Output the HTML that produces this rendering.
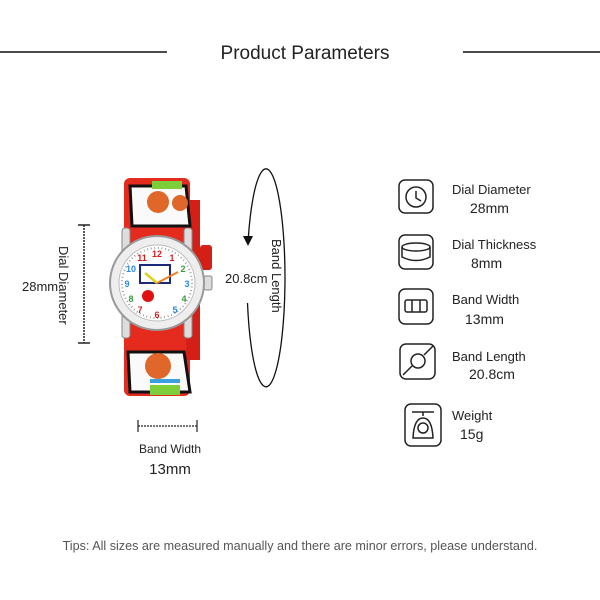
<!DOCTYPE html>
<html><head><style>
html,body{margin:0;padding:0;background:#fff;}
svg{display:block;}
text{font-family:"Liberation Sans",sans-serif;}
</style></head><body>
<svg width="600" height="600" viewBox="0 0 600 600" xmlns="http://www.w3.org/2000/svg">
<rect width="600" height="600" fill="#fff"/>
<line x1="0" y1="52" x2="167" y2="52" stroke="#111" stroke-width="1.5"/>
<line x1="463" y1="52" x2="600" y2="52" stroke="#111" stroke-width="1.5"/>
<text x="305" y="59" font-size="19" text-anchor="middle" fill="#222">Product Parameters</text>

<line x1="84" y1="225" x2="84" y2="343" stroke="#222" stroke-width="1.5" stroke-dasharray="2 1"/>
<line x1="78" y1="225" x2="90" y2="225" stroke="#222" stroke-width="1.5"/>
<line x1="78" y1="343" x2="90" y2="343" stroke="#222" stroke-width="1.5"/>
<text x="22" y="291" font-size="13" fill="#222">28mm</text>
<text transform="translate(59,246) rotate(90)" font-size="13" fill="#222">Dial Diameter</text>

<g>
<rect x="124" y="178" width="66" height="218" rx="6" fill="#e52a1e"/>
<rect x="186" y="200" width="14" height="160" fill="#d41f16"/>
<rect x="200" y="245" width="12" height="25" rx="3" fill="#d41f16"/>
<path d="M130 186 L186 186 L190 226 L132 226 Z" fill="#fafafa" stroke="#111" stroke-width="3"/>
<rect x="152" y="181" width="30" height="8" fill="#7ccf3a"/>
<circle cx="158" cy="202" r="11" fill="#e0662a"/>
<circle cx="180" cy="203" r="8" fill="#e0662a"/>
<path d="M128 352 L184 352 L190 392 L130 392 Z" fill="#fafafa" stroke="#111" stroke-width="3"/>
<circle cx="158" cy="366" r="13" fill="#e0662a"/>
<rect x="150" y="385" width="30" height="10" fill="#7ccf3a"/>
<rect x="150" y="379" width="30" height="4" fill="#3aa0e0"/>
<rect x="122" y="228" width="8" height="110" rx="3" fill="#ddd" stroke="#888"/>
<rect x="184" y="228" width="8" height="110" rx="3" fill="#ddd" stroke="#888"/>
<rect x="204" y="276" width="8" height="14" rx="2" fill="#ddd" stroke="#888"/>
<circle cx="157" cy="283" r="47" fill="#eee" stroke="#999" stroke-width="2"/>
<circle cx="157" cy="283" r="38" fill="#fff" stroke="#bbb"/>
<circle cx="157" cy="283" r="35" fill="none" stroke="#888" stroke-width="2" stroke-dasharray="0.8 2.8"/>
<rect x="140" y="265" width="30" height="18" fill="#fff" stroke="#1b2a7a" stroke-width="2"/>
<circle cx="148" cy="296" r="6" fill="#e01010"/>
<g font-size="9" text-anchor="middle" font-weight="bold">
<text x="157" y="257" fill="#d02020">12</text>
<text x="172" y="261" fill="#d02020">1</text>
<text x="183" y="272" fill="#3a9a3a">2</text>
<text x="187" y="287" fill="#2a8adf">3</text>
<text x="184" y="302" fill="#3a9a3a">4</text>
<text x="175" y="313" fill="#2a8adf">5</text>
<text x="157" y="318" fill="#d02020">6</text>
<text x="140" y="313" fill="#d02020">7</text>
<text x="131" y="302" fill="#3a9a3a">8</text>
<text x="127" y="287" fill="#2a8adf">9</text>
<text x="131" y="272" fill="#2a8adf">10</text>
<text x="142" y="261" fill="#d02020">11</text>
</g>
<line x1="157" y1="283" x2="178" y2="272" stroke="#f08020" stroke-width="2"/>
<line x1="157" y1="283" x2="145" y2="273" stroke="#e0d020" stroke-width="2.5"/>
</g>

<line x1="138" y1="426" x2="197" y2="426" stroke="#222" stroke-width="1.2" stroke-dasharray="2 1"/>
<line x1="138" y1="420" x2="138" y2="432" stroke="#222" stroke-width="1.2"/>
<line x1="197" y1="420" x2="197" y2="432" stroke="#222" stroke-width="1.2"/>
<text x="170" y="453" font-size="12" text-anchor="middle" fill="#222">Band Width</text>
<text x="170" y="474" font-size="15" text-anchor="middle" fill="#222">13mm</text>

<path d="M248.3 238 A19 109 0 1 1 247.5 303" fill="none" stroke="#111" stroke-width="1.3"/>
<path d="M243 236 L253 236 L248 246 Z" fill="#111"/>
<text x="225" y="283" font-size="13" fill="#222">20.8cm</text>
<text transform="translate(272,239) rotate(90)" font-size="13" fill="#222">Band Length</text>

<g fill="none" stroke="#222" stroke-width="1.5">
<rect x="399" y="180" width="34" height="33" rx="6"/>
<circle cx="416" cy="197" r="10"/>
<path d="M416 191 L416 198 L421 201"/>
<rect x="399" y="235" width="34" height="34" rx="6"/>
<ellipse cx="416" cy="247" rx="14" ry="4"/>
<path d="M402 247 L402 257 Q416 264 430 257 L430 247"/>
<rect x="399" y="289" width="34" height="35" rx="6"/>
<rect x="405" y="300" width="22" height="12" rx="2"/>
<line x1="412" y1="300" x2="412" y2="312"/><line x1="420" y1="300" x2="420" y2="312"/>
<rect x="400" y="344" width="35" height="35" rx="6"/>
<circle cx="418" cy="361" r="7"/>
<path d="M403 375 L412 366 M424 355 L433 346"/>
<rect x="405" y="404" width="36" height="42" rx="6"/>
<path d="M412 412 L434 412 M423 412 L423 416 M413 438 Q414 418 423 418 Q432 418 433 438 Z"/>
<circle cx="423" cy="428" r="5"/>
</g>
<g font-size="13" fill="#222">
<text x="452" y="194">Dial Diameter</text><text x="470" y="213" font-size="14">28mm</text>
<text x="452" y="249">Dial Thickness</text><text x="471" y="268" font-size="14">8mm</text>
<text x="452" y="304">Band Width</text><text x="465" y="324" font-size="14">13mm</text>
<text x="452" y="361">Band Length</text><text x="469" y="379" font-size="14">20.8cm</text>
<text x="452" y="420">Weight</text><text x="460" y="439" font-size="14">15g</text>
</g>

<text x="300" y="550" font-size="12.6" text-anchor="middle" fill="#555">Tips: All sizes are measured manually and there are minor errors, please understand.</text>
</svg>
</body></html>
